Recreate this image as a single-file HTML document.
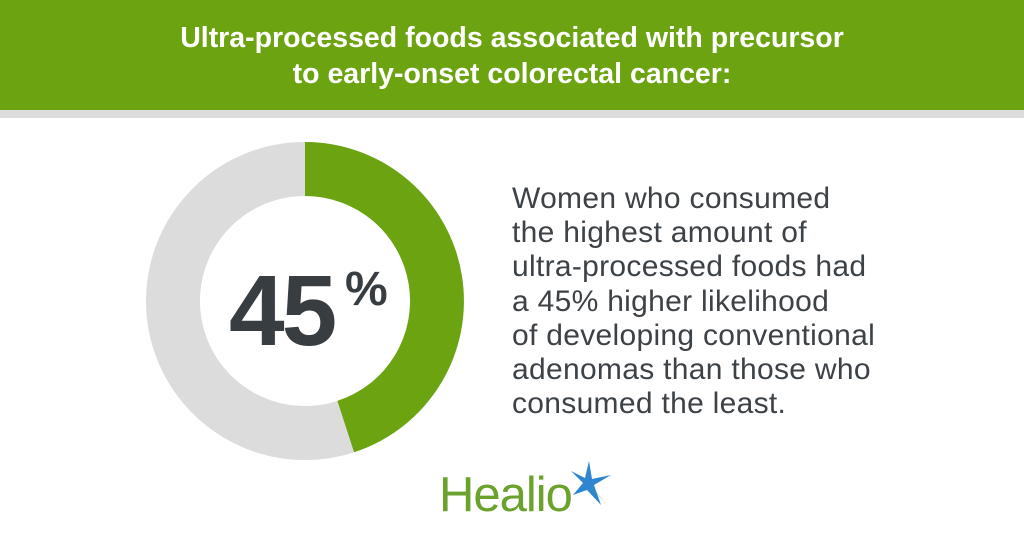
<!DOCTYPE html>
<html><head><meta charset="utf-8"><style>
html,body{margin:0;padding:0}
body{width:1024px;height:538px;position:relative;background:#fff;overflow:hidden;font-family:"Liberation Sans",sans-serif}
.hdr{position:absolute;left:0;top:0;width:1024px;height:110px;background:#6ba311}
.strip{position:absolute;left:0;top:110px;width:1024px;height:8px;background:#dcdcdc}
.ht{position:absolute;left:0;width:1024px;text-align:center;color:#fff;font-weight:bold;font-size:28.5px;letter-spacing:0px}
.body{position:absolute;left:512px;top:182px;color:#3d4247;font-size:30px;line-height:34.2px;letter-spacing:0.3px}
</style></head><body>
<div class="hdr"></div><div class="strip"></div>
<div class="ht" style="top:22px">Ultra-processed foods associated with precursor</div>
<div class="ht" style="top:58px">to early-onset colorectal cancer:</div>
<svg width="1024" height="538" style="position:absolute;left:0;top:0">
<circle cx="305" cy="301" r="132" fill="none" stroke="#dcdcdc" stroke-width="54"/>
<path d="M305 142 A159 159 0 0 1 354.1 452.2 L337.4 400.9 A105 105 0 0 0 305 196 Z" fill="#6ba311"/>
<text x="229" y="345" font-family="Liberation Sans" font-weight="bold" font-size="100" fill="#383d42" letter-spacing="-3">45</text>
<text x="345" y="305" font-family="Liberation Sans" font-weight="bold" font-size="48" fill="#383d42">%</text>
<text x="439" y="511" font-family="Liberation Sans" font-size="49" fill="#6aa22c" letter-spacing="-1">Healio</text>
<g transform="translate(587,483)">
<polygon points="2,-22 5,-4 24,-8 7,2 14,22 0,7 -14,12 -4,0 -16,-12 -2,-5" fill="#2f86d0"/>
<polygon points="3,3 24,26 8,8" fill="#6aa22c"/>
</g>
</svg>
<div class="body">Women who consumed<br>the highest amount of<br>ultra-processed foods had<br>a 45% higher likelihood<br>of developing conventional<br>adenomas than those who<br>consumed the least.</div>
</body></html>
